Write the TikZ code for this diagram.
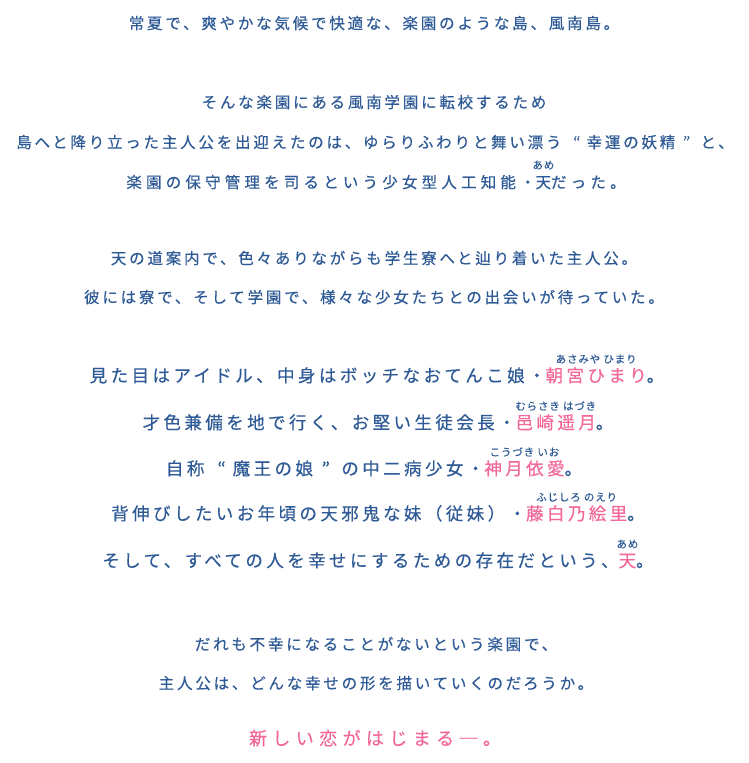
\documentclass[tikz,border=0pt]{standalone}
\usepackage{fontspec}
\usepackage{tikz}
\newfontfamily\jp[LetterSpace=18,FakeBold=0.4]{Noto Sans CJK JP}
\newfontfamily\jpruby[LetterSpace=8,FakeBold=0.3]{Noto Sans CJK JP}
\definecolor{txtblue}{HTML}{2E5A96}
\definecolor{txtpink}{HTML}{F2689A}
\newcommand\pk[1]{\textcolor{txtpink}{#1}}
\newcommand\rb[2]{\ooalign{#1\cr\hidewidth\raisebox{19pt}{\color{txtblue}\jpruby\fontsize{10.5}{11}\selectfont #2}\hidewidth\cr}}
% wide quotes
\newcommand\oq{\hspace{0.75em}“\hspace{0.4em}}
\newcommand\cq{\hspace{0.5em}”\hspace{0.65em}}
\tikzset{
	txt/.style={anchor=base,inner sep=0pt,text=txtblue,font=\jp\fontsize{15.5}{18}\selectfont},
	widetxt/.style={txt,font=\jp\fontsize{15.5}{18}\selectfont\addfontfeature{LetterSpace=27}},
	bigtxt/.style={txt,font=\jp\fontsize{17.5}{20}\selectfont\addfontfeature{LetterSpace=19.5}},
	endtxt/.style={txt,text=txtpink,font=\jp\fontsize{18}{20}\selectfont\addfontfeature{LetterSpace=30}}
}
\begin{document}
\begin{tikzpicture}[x=1pt,y=-1pt]
	\useasboundingbox (0,0) rectangle (748,763);
	\node [txt] (l1) at (374,29) {常夏で、爽やかな気候で快適な、楽園のような島、風南島。};
	
	\node [txt] (l2) at (374,108) {そんな楽園にある風南学園に転校するため};
	\node [txt] (l3) at (375,148) {島へと降り立った主人公を出迎えたのは、ゆらりふわりと舞い漂う\oq 幸運の妖精\cq と、};
	\node [widetxt] (l4) at (376,188) {楽園の保守管理を司るという少女型人工知能・\rb{天}{あめ}だった。};
	
	\node [txt] (l5) at (374,264) {天の道案内で、色々ありながらも学生寮へと辿り着いた主人公。};
	\node [txt] (l6) at (374,303) {彼には寮で、そして学園で、様々な少女たちとの出会いが待っていた。};
	
	\node [bigtxt] (l7) at (377,382) {見た目はアイドル、中身はボッチなおてんこ娘・\rb{\pk{朝宮ひまり}}{あさみや ひまり}。};
	\node [bigtxt] (l8) at (378,429) {才色兼備を地で行く、お堅い生徒会長・\rb{\pk{邑崎遥月}}{むらさき はづき}。};
	\node [bigtxt] (l9) at (374,475) {自称\oq 魔王の娘\cq の中二病少女・\rb{\pk{神月依愛}}{こうづき いお}。};
	\node [bigtxt] (l10) at (378,520) {背伸びしたいお年頃の天邪鬼な妹（従妹）・\rb{\pk{藤白乃絵里}}{ふじしろ のえり}。};
	\node [bigtxt] (l11) at (378,567) {そして、すべての人を幸せにするための存在だという、\rb{\pk{天}}{あめ}。};
	
	\node [txt] (l12) at (376,650) {だれも不幸になることがないという楽園で、};
	\node [txt] (l13) at (376,689) {主人公は、どんな幸せの形を描いていくのだろうか。};
	
	\node [endtxt] (l14) at (375,745) {新しい恋がはじまる─。};
\end{tikzpicture}
\end{document}
